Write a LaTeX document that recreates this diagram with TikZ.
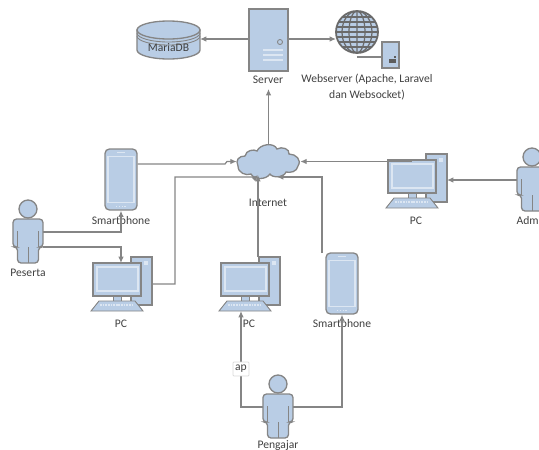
\documentclass[tikz,border=0pt]{standalone}
\usepackage{fontspec}
\setmainfont{Carlito}
\usepackage{xcolor}
\usetikzlibrary{arrows.meta, calc, positioning}
\definecolor{iconfill}{HTML}{B9CDE5}
\definecolor{iconline}{HTML}{858585}
\definecolor{iconlight}{HTML}{DCE6F2}
\definecolor{textgray}{HTML}{404040}
\tikzset{
  icon/.style={draw=iconline, fill=iconfill, line width=0.75pt},
  light/.style={draw=iconlight, line width=0.6pt},
  link/.style={draw=iconline, line width=0.7pt, -{Latex[length=3.6pt,width=3.2pt]}},
  caption/.style={font=\fontsize{6.6}{9}\selectfont, text=textgray, align=center, inner sep=0pt},
  pcicon/.pic={
    \draw[icon] (38,-6) rectangle (59,42);
    \fill[iconlight] (51,-2) rectangle (55,2);
    \coordinate (-port) at (59,21);
    \fill[iconfill, draw=iconline, line width=0.5pt] (20,33) rectangle (28,39);
    \draw[icon] (0,0) rectangle (48,33);
    \draw[light] (4,4) rectangle (45,28);
    \draw[icon, line width=0.5pt] (6,38) -- (42,38) -- (50,48) -- (-2,48) -- cycle;
    \draw[light, dash pattern=on 1pt off 0.5pt] (7,42) -- (41,42);
    \coordinate (-north) at (24,0);
  },
  personicon/.pic={
    \draw[icon] (0,0) circle (9);
    \draw[icon, rounded corners=2pt] (-15,38) -- (-15,10) -- (15,10) -- (15,38) -- (10.5,38) -- (10.5,54) -- (-10.5,54) -- (-10.5,38) -- cycle;
    \draw[draw=iconline, line width=0.5pt] (-10.5,22) -- (-10.5,38) (10.5,22) -- (10.5,38) (0,38) -- (0,54);
    \coordinate (-east) at (15,23);
    \coordinate (-west) at (-15,23);
    \coordinate (-hip) at (15,38);
  },
  phoneicon/.pic={
    \node[icon, rounded corners=2.5pt, minimum width=0.64cm, minimum height=1.22cm, inner sep=0pt] (-body) at (0,0) {};
    \draw[light] (-13,-23) rectangle (13,23);
    \draw[light] (-4,-27) -- (4,-27);
    \draw[light, dash pattern=on 0.8pt off 0.8pt] (-5,27) -- (5,27);
  }
}
\begin{document}
\begin{tikzpicture}[x=0.02cm, y=-0.02cm]
\useasboundingbox (0,0) rectangle (539,450);

% Server
\node[icon, minimum width=0.78cm, minimum height=1.24cm, inner sep=0pt] (server) at (268.5,40) {};
\draw[iconline, line width=0.5pt] (280,42) circle (2.5);
\foreach \y in {50,55,60} {
    \draw[light] (263,\y) -- (283,\y);
}
\node[caption] (serverlabel) at (268,80) {Server};

% Database
\draw[icon] (137,30) -- (137,50) arc[start angle=180, end angle=0, x radius=31.5, y radius=9] -- (200,30) -- cycle;
\draw[icon] (168.5,30) ellipse (31.5 and 9);
\draw[iconline, line width=0.5pt] (137,33) arc[start angle=180, end angle=0, x radius=31.5, y radius=9];
\draw[iconline, line width=0.5pt] (137,36) arc[start angle=180, end angle=0, x radius=31.5, y radius=9];
\node[caption, text=black!75] (mariadb) at (168.5,48) {MariaDB};
\coordinate (dbport) at (200,39);

% Webserver
\draw[icon, draw=iconline!80!black, line width=1pt] (357,32) circle (21);
\begin{scope}
\clip (357,32) circle (21);
\draw[iconline!80!black, line width=0.7pt] (357,32) ellipse (8 and 21) (357,32) ellipse (15 and 21) (357,11) -- (357,53);
\foreach \y in {17,22,27,32,37,42,47} {
    \draw[iconline!80!black, line width=0.7pt] (336,\y) -- (378,\y);
}
\end{scope}
\coordinate (globeport) at (336,39);
\draw[draw=iconline, line width=0.7pt] (357,57) -- (382,57);
\draw[icon] (382,42) rectangle (399,68);
\fill[iconline!70!black] (389,59) rectangle (396,63);
\fill[iconline!70!black] (394,56) rectangle (396,58);
\node[caption] (weblabel) at (367,87) {Webserver (Apache, Laravel\\dan Websocket)};

% Internet
\draw[icon] (238,166) .. controls (235,160) and (239,156) .. (245,156)
  .. controls (246,150) and (254,149) .. (257,151)
  .. controls (260,144) and (274,142) .. (277,149)
  .. controls (282,146) and (290,149) .. (289,154)
  .. controls (296,154) and (302,160) .. (298,166)
  .. controls (297,172) and (290,173) .. (286,172)
  .. controls (284,178) and (272,178) .. (270,174)
  .. controls (266,180) and (254,180) .. (251,174)
  .. controls (246,176) and (238,173) .. (238,166) -- cycle;
\node[minimum width=1.26cm, minimum height=0.7cm, inner sep=0pt] (internet) at (268.5,161.5) {};
\node[caption] (internetlabel) at (268,203) {Internet};
\coordinate (cloudA) at (258,175);
\coordinate (cloudB) at (277,177);

% Clients and users
\pic (phoneA) at (121,179.5) {phoneicon};
\node[caption] (phoneAlabel) at (121,221) {Smartphone};
\pic (peserta) at (28,209) {personicon};
\node[caption] (pesertalabel) at (28,273) {Peserta};
\pic (pcA) at (93,263) {pcicon};
\node[caption] (pcAlabel) at (121,324) {PC};
\pic (pcB) at (221,263) {pcicon};
\node[caption] (pcBlabel) at (249,324) {PC};
\pic (phoneB) at (342,283.5) {phoneicon};
\node[caption] (phoneBlabel) at (342,324) {Smartphone};
\pic (pcC) at (388,160) {pcicon};
\node[caption] (pcClabel) at (416,221) {PC};
\pic (admin) at (532,157) {personicon};
\node[caption] (adminlabel) at (532,221) {Admin};
\pic (pengajar) at (278,384) {personicon};
\node[caption] (pengajarlabel) at (278,446) {Pengajar};

% Connectors
\draw[link] (server.west |- dbport) -- (dbport);
\draw[link] (server.east |- globeport) -- (globeport);
\draw[link] (internet.north) -- (268.5,89);
\draw[link] (phoneA-body.east |- 0,164) -- (225,164) -- (227,161.5) -- (internet.west);
\draw[link] (peserta-east) -- (121,232) -- (phoneA-body.south);
\draw[link] (peserta-hip) -- (121,247) -- (121,263);
\draw[link] (pcA-port) -- (175,284) -- (175,177) -- (256,177) -- (cloudA);
\draw[link] (258,257) -- (cloudA);
\draw[link] (322,253) -- (322,177) -- (cloudB);
\draw[link] (pcC-north |- internet.east) -- (internet.east);
\draw[link] (admin-west) -- (pcC-port |- admin-west);
\draw[link] (pengajar-west) -- (241,407) -- (241,311);
\draw[link] (pengajar-east) -- (342,407) -- (phoneB-body.south);

% Connector label
\node[caption, draw=black!15, fill=white, rounded corners=0.5pt, inner sep=1.2pt, minimum width=0.26cm, minimum height=0.28cm] (aplabel) at (241,369) {ap};
\end{tikzpicture}
\end{document}
